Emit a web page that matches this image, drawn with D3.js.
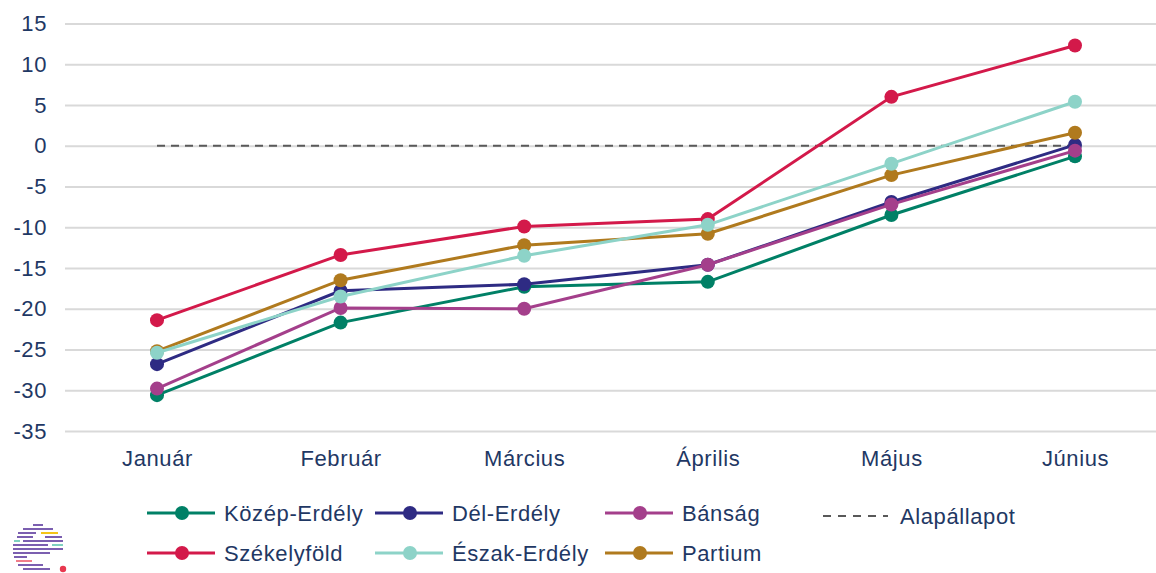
<!DOCTYPE html>
<html>
<head>
<meta charset="utf-8">
<script src="https://cdn.jsdelivr.net/npm/d3@7"></script>
<style>
  html, body { margin: 0; padding: 0; background: #fff; }
  svg text { font-family: "Liberation Sans", Arial, sans-serif; fill: #1f3864; }
</style>
</head>
<body>
<svg id="chart" width="1156" height="573"></svg>
<script>
// Chart values
const categories = ['Január', 'Február', 'Március', 'Április', 'Május', 'Június'];
const yTicks = [15, 10, 5, 0, -5, -10, -15, -20, -25, -30, -35];

const kozepErdely = [-30.6, -21.7, -17.3, -16.7, -8.5, -1.3];
const delErdely = [-26.8, -17.8, -17.0, -14.6, -6.9, 0.1];
const bansag = [-29.8, -19.9, -20.0, -14.6, -7.2, -0.6];
const szekelyfold = [-21.4, -13.4, -9.9, -9.0, 6.0, 12.3];
const eszakErdely = [-25.4, -18.5, -13.5, -9.7, -2.2, 5.4];
const partium = [-25.2, -16.5, -12.2, -10.8, -3.6, 1.6];
const alapallapot = [0, 0, 0, 0, 0, 0];

const seriesNames = ['Közép-Erdély', 'Dél-Erdély', 'Bánság', 'Székelyföld', 'Észak-Erdély', 'Partium'];
const seriesValues = [kozepErdely, delErdely, bansag, szekelyfold, eszakErdely, partium];
const seriesColors = ['#008066', '#2e2b83', '#a43f8b', '#d3194a', '#8dd3c8', '#b07a1e'];
// drawing order (later on top)
const drawOrder = [0, 1, 2, 3, 5, 4];

const svg = d3.select('#chart');
const TEXT = '#1f3864';
const FONT_SIZE = '22px';

const x = d3.scalePoint().domain(categories).range([157, 1075]);
const y = d3.scaleLinear().domain([-35, 15]).range([431, 23.5]);

// Gridlines
svg.append('g')
  .attr('transform', 'translate(65,0)')
  .call(d3.axisLeft(y).tickValues(yTicks).tickSize(-1091).tickFormat(''))
  .call((g) => g.select('.domain').remove())
  .call((g) => g.selectAll('.tick line').attr('stroke', '#d9d9d9').attr('stroke-width', 2));

// Y tick labels (plain hyphen for negatives, like the source)
svg.append('g')
  .attr('transform', 'translate(47,0)')
  .call(d3.axisLeft(y).tickValues(yTicks).tickSize(0).tickPadding(0).tickFormat((d) => String(d)))
  .call((g) => g.select('.domain').remove())
  .call((g) => g.selectAll('.tick text')
    .style('font-size', FONT_SIZE)
    .style('letter-spacing', '0.6px')
    .attr('fill', TEXT));

// Category labels
svg.append('g')
  .attr('transform', 'translate(0,450)')
  .call(d3.axisBottom(x).tickSize(0).tickPadding(0))
  .call((g) => g.select('.domain').remove())
  .call((g) => g.selectAll('.tick text')
    .style('font-size', FONT_SIZE)
    .style('letter-spacing', '0.6px')
    .attr('fill', TEXT));

const line = d3.line()
  .x((d, i) => x(categories[i]))
  .y((d) => y(d));

// Baseline dashed
svg.append('path')
  .datum(alapallapot)
  .attr('d', line)
  .attr('fill', 'none')
  .attr('stroke', '#595959')
  .attr('stroke-width', 2)
  .attr('stroke-dasharray', '8,6');

// Series
drawOrder.forEach((si) => {
  const g = svg.append('g');
  g.append('path')
    .datum(seriesValues[si])
    .attr('d', line)
    .attr('fill', 'none')
    .attr('stroke', seriesColors[si])
    .attr('stroke-width', 3);
  g.selectAll('circle')
    .data(seriesValues[si])
    .join('circle')
    .attr('cx', (d, i) => x(categories[i]))
    .attr('cy', (d) => y(d))
    .attr('r', 7)
    .attr('fill', seriesColors[si]);
});

// Legend
const legendItems = [
  { s: 0, x: 147, y: 513 },
  { s: 1, x: 375, y: 513 },
  { s: 2, x: 605, y: 513 },
  { s: 3, x: 147, y: 553 },
  { s: 4, x: 375, y: 553 },
  { s: 5, x: 605, y: 553 },
];
const legend = svg.append('g');
legendItems.forEach((item) => {
  const g = legend.append('g').attr('transform', `translate(${item.x},${item.y})`);
  g.append('line')
    .attr('x1', 0).attr('x2', 68).attr('y1', 0).attr('y2', 0)
    .attr('stroke', seriesColors[item.s]).attr('stroke-width', 3);
  g.append('circle')
    .attr('cx', 35).attr('cy', 0).attr('r', 7)
    .attr('fill', seriesColors[item.s]);
  g.append('text')
    .attr('x', 77).attr('y', 0).attr('dy', '0.35em')
    .style('font-size', FONT_SIZE)
    .style('letter-spacing', '0.6px')
    .text(seriesNames[item.s]);
});
const baseG = legend.append('g').attr('transform', 'translate(823,516)');
baseG.append('line')
  .attr('x1', 0).attr('x2', 65).attr('y1', 0).attr('y2', 0)
  .attr('stroke', '#595959').attr('stroke-width', 2)
  .attr('stroke-dasharray', '8,7');
baseG.append('text')
  .attr('x', 77).attr('y', 0).attr('dy', '0.35em')
  .style('font-size', FONT_SIZE)
  .style('letter-spacing', '0.6px')
  .text('Alapállapot');

// Logo (decorative striped circle)
const logoRows = [
  [[33, 43, '#7b5fb0']],
  [[23, 53, '#7b5fb0']],
  [[18, 36, '#7b5fb0'], [41, 58, '#f5c518']],
  [[17, 33, '#7b5fb0'], [45, 62, '#7b5fb0']],
  [[14, 20, '#7fd1c0'], [23, 63, '#7b5fb0']],
  [[13, 48, '#7b5fb0'], [52, 63, '#7fd1c0']],
  [[13, 63, '#7b5fb0']],
  [[13, 50, '#7b5fb0']],
  [[14, 27, '#7b5fb0']],
  [[16, 32, '#f07d8a']],
  [[18, 43, '#7b5fb0']],
  [[23, 50, '#7b5fb0']],
];
const logo = svg.append('g');
logoRows.forEach((row, ri) => {
  row.forEach((seg) => {
    logo.append('rect')
      .attr('x', seg[0]).attr('y', 524 + ri * 4)
      .attr('width', seg[1] - seg[0]).attr('height', 2)
      .attr('fill', seg[2]);
  });
});
logo.append('circle').attr('cx', 63).attr('cy', 569).attr('r', 3.2).attr('fill', '#e8384f');
</script>
</body>
</html>
